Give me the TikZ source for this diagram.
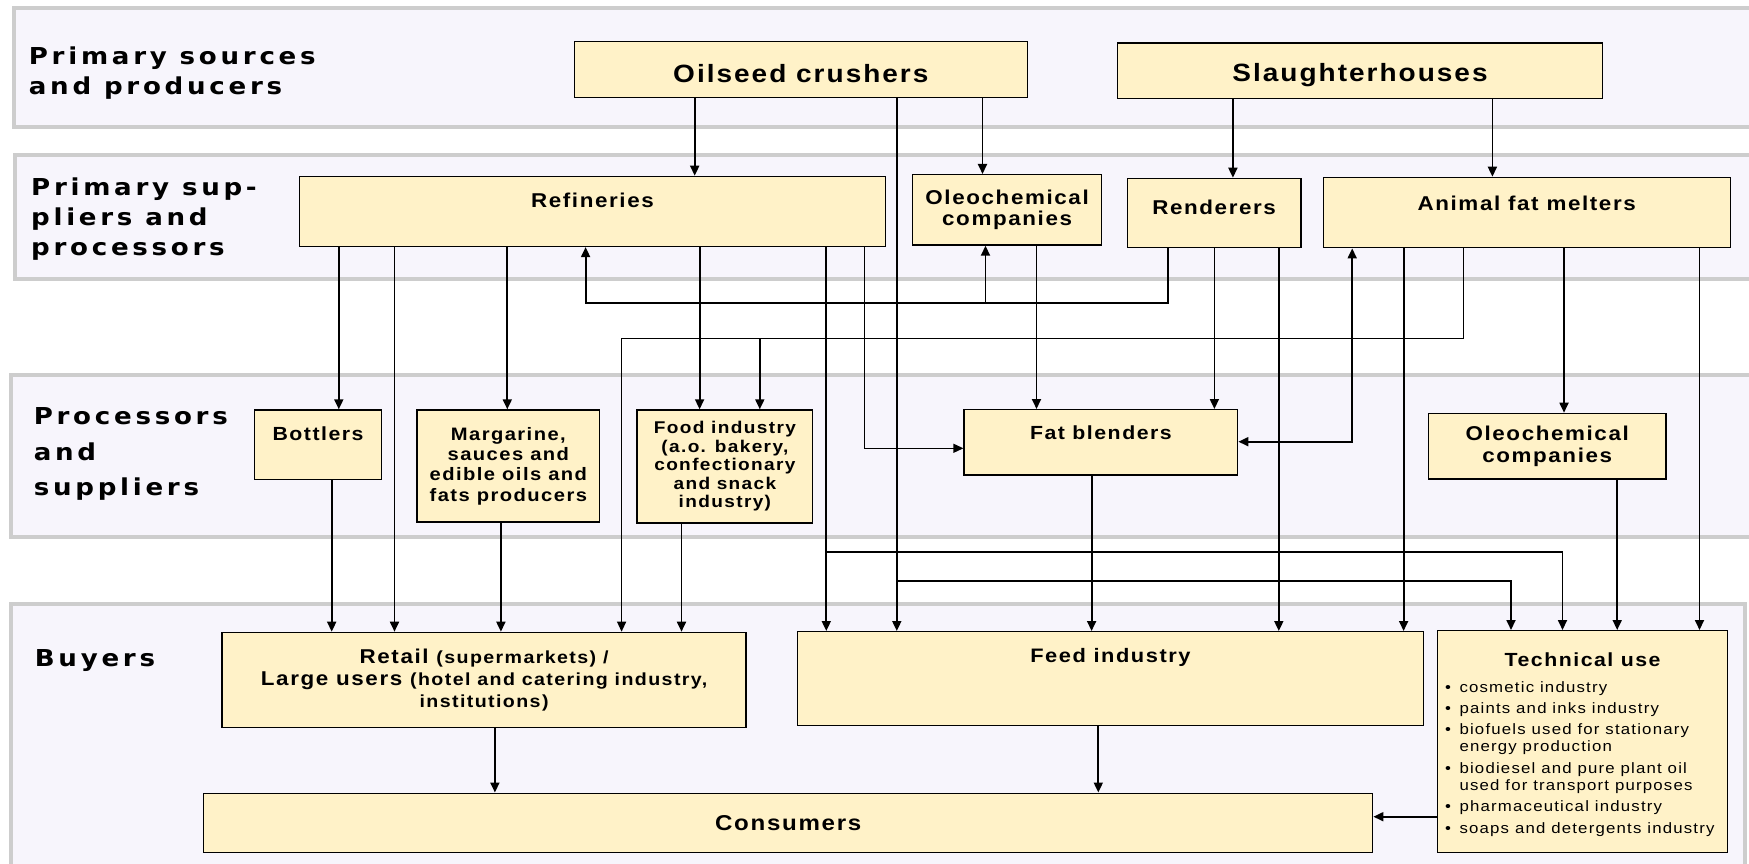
\documentclass[tikz,border=0pt]{standalone}
\usepackage{fontspec}
\usepackage{tikz}
\usetikzlibrary{positioning,arrows.meta}
\newfontfamily\lblfont[FakeStretch=1.12, LetterSpace=16]{DejaVu Sans}
\newfontfamily\boxfont[FakeStretch=1.12, LetterSpace=8]{Liberation Sans}
\newfontfamily\listfont[FakeStretch=1.12, LetterSpace=8]{Liberation Sans}
\definecolor{bandfill}{RGB}{247,245,252}
\definecolor{bandline}{RGB}{205,205,205}
\definecolor{boxfill}{RGB}{255,242,200}
\begin{document}
\begin{tikzpicture}[x=1pt, y=-1pt, every node/.style={inner sep=0pt},
    band/.style={draw=bandline, fill=bandfill, line width=3.5pt},
    lbl/.style={anchor=north west, align=left, font=\lblfont\bfseries\fontsize{23.3}{30}\selectfont},
    box/.style={draw, fill=boxfill, line width=1.4pt, anchor=north west, align=center, font=\boxfont\bfseries\fontsize{20}{21.6}\selectfont},
    toplbl/.style={anchor=north, align=center, font=\boxfont\bfseries\fontsize{20}{21.6}\selectfont},
    arr/.style={line width=1.8pt, -{Triangle[length=10pt, width=9pt]}},
    arrs/.style={line width=1.8pt, {Triangle[length=10pt, width=9pt]}-{Triangle[length=10pt, width=9pt]}},
    thin/.style={line width=1.2pt}]
    \useasboundingbox (0,0) rectangle (1749,864);

    % bands
    \draw[band] (13.8,8) rectangle (1765,127);
    \draw[band] (15,155) rectangle (1765,279);
    \draw[band] (10.8,375) rectangle (1765,537);
    \draw[band] (11.2,604) rectangle (1745,880);

    \node[lbl] (l1) at (28.7,46.5) {Primary sources\\and producers};
    \node[lbl] (l2) at (31,177.5) {Primary sup-\\pliers and\\processors};
    \node[lbl, font=\lblfont\bfseries\fontsize{23.3}{35.3}\selectfont] (l3) at (33.6,407.8) {Processors\\and\\suppliers};
    \node[lbl] (l4) at (34.7,649.8) {Buyers};

    % primary sources
    \node[box, minimum width=453.3pt, minimum height=55.7pt, text height=26pt, font=\boxfont\bfseries\fontsize{25}{27}\selectfont] (oil) at (573.5,41) {Oilseed crushers};
    \node[box, minimum width=485.4pt, minimum height=55.4pt, text height=26pt, font=\boxfont\bfseries\fontsize{25}{27}\selectfont] (sla) at (1116.6,42.3) {Slaughterhouses};

    % primary suppliers
    \node[box, minimum width=586.5pt, minimum height=70pt, label={[toplbl, yshift=-17.6pt]north:Refineries}] (ref) at (298.5,175.7) {};
    \node[box, minimum width=189.2pt, minimum height=70.3pt] (oleo1) at (911.8,174) {Oleochemical\\companies};
    \node[box, minimum width=173.6pt, minimum height=69.3pt, label={[toplbl, yshift=-22.3pt]north:Renderers}] (ren) at (1126.6,177.7) {};
    \node[box, minimum width=407pt, minimum height=70.3pt, label={[toplbl, yshift=-19.3pt]north:Animal fat melters}] (afm) at (1322.5,176.7) {};

    % processors
    \node[box, minimum width=127.3pt, minimum height=69.7pt, label={[toplbl, yshift=-17.4pt, font=\boxfont\bfseries\fontsize{19}{21}\selectfont]north:Bottlers}] (bot) at (253.7,409.3) {};
    \node[box, minimum width=182.7pt, minimum height=112pt, font=\boxfont\bfseries\fontsize{18}{20.3}\selectfont] (mar) at (416.3,409.3) {Margarine,\\sauces and\\edible oils and\\fats producers};
    \node[box, minimum width=175.6pt, minimum height=113pt, font=\boxfont\bfseries\fontsize{17}{18.5}\selectfont] (food) at (636.4,409.3) {Food industry\\(a.o. bakery,\\confectionary\\and snack\\industry)};
    \node[box, minimum width=273.6pt, minimum height=65.3pt, label={[toplbl, yshift=-17pt, font=\boxfont\bfseries\fontsize{19}{21}\selectfont]north:Fat blenders}] (fat) at (963.4,409) {};
    \node[box, minimum width=237.8pt, minimum height=65.6pt, font=\boxfont\bfseries\fontsize{20}{22}\selectfont] (oleo2) at (1427.6,412.7) {Oleochemical\\companies};

    % buyers
    \node[box, minimum width=524pt, minimum height=95.3pt, font=\boxfont\bfseries\fontsize{20}{22.4}\selectfont] (ret) at (221.4,631.7)
        {Retail {\fontsize{17.5}{22.4}\selectfont(supermarkets) /}\\Large users {\fontsize{17.5}{22.4}\selectfont(hotel and catering industry,}\\{\fontsize{17.5}{22.4}\selectfont institutions)}};
    \node[box, minimum width=625.9pt, minimum height=94pt, label={[toplbl, yshift=-17pt, font=\boxfont\bfseries\fontsize{19.5}{21}\selectfont]north:Feed industry}] (feed) at (796.8,631) {};
    \node[box, minimum width=289.8pt, minimum height=221.7pt,
        label={[toplbl, yshift=-22.7pt, font=\boxfont\bfseries\fontsize{19}{21}\selectfont]north:Technical use},
        label={[anchor=north west, align=left, xshift=8pt, yshift=-51pt, font=\listfont\fontsize{15}{17.3}\selectfont]north west:{%
            \makebox[14.3pt][l]{\textbullet}cosmetic industry\\[4pt]
            \makebox[14.3pt][l]{\textbullet}paints and inks industry\\[4pt]
            \makebox[14.3pt][l]{\textbullet}biofuels used for stationary\\
            \hspace*{14.3pt}energy production\\[4pt]
            \makebox[14.3pt][l]{\textbullet}biodiesel and pure plant oil\\
            \hspace*{14.3pt}used for transport purposes\\[4pt]
            \makebox[14.3pt][l]{\textbullet}pharmaceutical industry\\[4pt]
            \makebox[14.3pt][l]{\textbullet}soaps and detergents industry}}] (tech) at (1437,630) {};
    \node[box, minimum width=1169pt, minimum height=59.2pt, font=\boxfont\bfseries\fontsize{21.5}{23}\selectfont] (con) at (203,792.5) {Consumers};

    % oilseed crushers
    \draw[arr] (694.7,0 |- oil.south) -- (694.7,0 |- ref.north);
    \draw[arr] (982.5,0 |- oil.south) -- (982.5,0 |- oleo1.north);
    \draw[arr] (896.8,0 |- oil.south) -- (896.8,581.3) coordinate (j1) -- (896.8,0 |- feed.north);
    \draw[arr] (j1) -| (1511,0 |- tech.north);

    % slaughterhouses
    \draw[arr] (1232.9,0 |- sla.south) -- (1232.9,0 |- ren.north);
    \draw[arr] (1492.4,0 |- sla.south) -- (1492.4,0 |- afm.north);

    % refineries
    \draw[arr] (338.8,0 |- ref.south) -- (338.8,0 |- bot.north);
    \draw[arr] (394.5,0 |- ref.south) -- (394.5,0 |- ret.north);
    \draw[arr] (507.3,0 |- ref.south) -- (507.3,0 |- mar.north);
    \draw[arr] (699.6,0 |- ref.south) -- (699.6,0 |- food.north);
    \draw[arr] (826.3,0 |- ref.south) -- (826.3,552.3) coordinate (j2) -- (826.3,0 |- feed.north);
    \draw[arr] (j2) -| (1562.5,0 |- tech.north);
    \draw[arr, thin] (864.6,0 |- ref.south) |- (fat.west |- 0,448.3);

    % renderers
    \draw[arr] (1168.3,0 |- ren.south) -- (1168.3,302.7) -- (585.6,302.7) -- (585.6,0 |- ref.south);
    \coordinate (j3) at (985.5,302.7);
    \draw[arr] (j3) -- (985.5,0 |- oleo1.south);
    \draw[arr] (1214.4,0 |- ren.south) -- (1214.4,0 |- fat.north);
    \draw[arr] (1278.8,0 |- ren.south) -- (1278.8,0 |- feed.north);
    \draw[arr] (1036.5,0 |- oleo1.south) -- (1036.5,0 |- fat.north);

    % animal fat melters
    \draw[arrs] (fat.east |- 0,441.7) -| (1352.2,0 |- afm.south);
    \draw[arr] (1403.6,0 |- afm.south) -- (1403.6,0 |- feed.north);
    \draw[arr, thin] (1463.6,0 |- afm.south) -- (1463.6,338.3) -- (621.6,338.3) -- (621.6,0 |- ret.north);
    \coordinate (j4) at (759.8,338.3);
    \draw[arr] (j4) -- (759.8,0 |- food.north);
    \draw[arr] (1564,0 |- afm.south) -- (1564,0 |- oleo2.north);
    \draw[arr] (1699.5,0 |- afm.south) -- (1699.5,0 |- tech.north);

    % processors to buyers
    \draw[arr] (331.7,0 |- bot.south) -- (331.7,0 |- ret.north);
    \draw[arr] (500.9,0 |- mar.south) -- (500.9,0 |- ret.north);
    \draw[arr] (681.5,0 |- food.south) -- (681.5,0 |- ret.north);
    \draw[arr] (1091.6,0 |- fat.south) -- (1091.6,0 |- feed.north);
    \draw[arr] (1617.2,0 |- oleo2.south) -- (1617.2,0 |- tech.north);

    % buyers to consumers
    \draw[arr] (494.9,0 |- ret.south) -- (494.9,0 |- con.north);
    \draw[arr] (1098.3,0 |- feed.south) -- (1098.3,0 |- con.north);
    \draw[arr] (tech.west |- 0,816.7) -- (con.east |- 0,816.7);
\end{tikzpicture}
\end{document}
